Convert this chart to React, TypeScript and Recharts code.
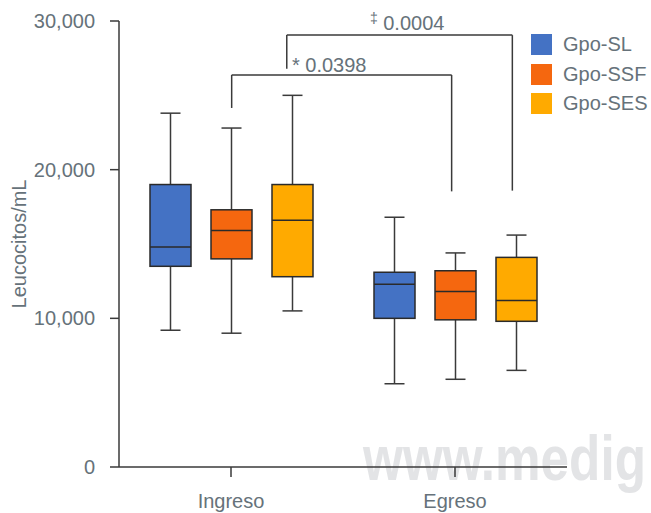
import React from 'react';
import {
  ComposedChart,
  Bar,
  XAxis,
  YAxis,
  Legend,
  ReferenceLine,
  ReferenceDot,
} from 'recharts';

// ---- data ----
const categories = ['Ingreso', 'Egreso'];

const seriesKeys = ['sl', 'ssf', 'ses'];
const seriesNames = ['Gpo-SL', 'Gpo-SSF', 'Gpo-SES'];
const seriesColors = ['#4472C4', '#F5670F', '#FFAA00'];

// per series: [Ingreso, Egreso]
const slMin = [9200, 5600];
const slQ1 = [13500, 10000];
const slMed = [14800, 12300];
const slQ3 = [19000, 13100];
const slMax = [23800, 16800];

const ssfMin = [9000, 5900];
const ssfQ1 = [14000, 9900];
const ssfMed = [15900, 11800];
const ssfQ3 = [17300, 13200];
const ssfMax = [22800, 14400];

const sesMin = [10500, 6500];
const sesQ1 = [12800, 9800];
const sesMed = [16600, 11200];
const sesQ3 = [19000, 14100];
const sesMax = [25000, 15600];

const yTicks = [0, 10000, 20000, 30000];

// significance brackets (x as a fraction 0..1 of the category axis, y in leucocitos/mL)
const bracketAX = [0.2515, 0.2515, 0.7425, 0.7425];
const bracketAY = [24150, 26370, 26370, 18540];
const bracketBX = [0.3745, 0.3745, 0.878, 0.878];
const bracketBY = [26790, 29050, 29050, 18590];

const annotationSymbols = ['*', '‡'];
const annotationValues = ['0.0398', '0.0004'];
const annotationX = [0.386, 0.56];
const annotationY = [26560, 29370];

// ---- build table ----
const stats = {
  sl: { min: slMin, q1: slQ1, med: slMed, q3: slQ3, max: slMax },
  ssf: { min: ssfMin, q1: ssfQ1, med: ssfMed, q3: ssfQ3, max: ssfMax },
  ses: { min: sesMin, q1: sesQ1, med: sesMed, q3: sesQ3, max: sesMax },
};

const data = categories.map((cat, i) => {
  const row: any = { cat };
  seriesKeys.forEach((k) => {
    const s = (stats as any)[k];
    row[k] = [s.min[i], s.max[i]];
    row[k + 'Stats'] = { min: s.min[i], q1: s.q1[i], med: s.med[i], q3: s.q3[i], max: s.max[i] };
  });
  return row;
});

const TEXT = '#66727A';
const LINE = '#3A3A3A';
const FONT = '"Liberation Sans", Arial, Helvetica, sans-serif';

const makeBoxShape = (key: string) => (props: any) => {
  const { x, y, width, height, payload, fill } = props;
  const st = payload[key + 'Stats'];
  const top = Math.min(y, y + height);
  const bottom = Math.max(y, y + height);
  const k = (bottom - top) / (st.max - st.min);
  const py = (v: number) => bottom - (v - st.min) * k;
  const cx = x + width / 2;
  const cap = 10;
  return (
    <g>
      <line x1={cx} x2={cx} y1={py(st.max)} y2={py(st.q3)} stroke={LINE} strokeWidth={1.5} />
      <line x1={cx} x2={cx} y1={py(st.q1)} y2={py(st.min)} stroke={LINE} strokeWidth={1.5} />
      <line x1={cx - cap} x2={cx + cap} y1={py(st.max)} y2={py(st.max)} stroke={LINE} strokeWidth={1.5} />
      <line x1={cx - cap} x2={cx + cap} y1={py(st.min)} y2={py(st.min)} stroke={LINE} strokeWidth={1.5} />
      <rect
        x={x}
        y={py(st.q3)}
        width={width}
        height={py(st.q1) - py(st.q3)}
        fill={fill}
        stroke="#2A2A2A"
        strokeWidth={1.5}
      />
      <line x1={x} x2={x + width} y1={py(st.med)} y2={py(st.med)} stroke="#2A2A2A" strokeWidth={1.5} />
    </g>
  );
};

const bracketSegments = (xs: number[], ys: number[]) =>
  xs.slice(0, -1).map((_, i) => [
    { x: xs[i], y: ys[i] },
    { x: xs[i + 1], y: ys[i + 1] },
  ]);

const YLabel = (props: any) => {
  const vb = props.viewBox || {};
  const cy = (vb.y || 0) + (vb.height || 0) / 2;
  const lx = 26;
  return (
    <text
      x={lx}
      y={cy}
      transform={`rotate(-90, ${lx}, ${cy})`}
      textAnchor="middle"
      fill={TEXT}
      fontSize={20}
      fontFamily={FONT}
    >
      Leucocitos/mL
    </text>
  );
};

const LegendContent = (props: any) => {
  const payload = props.payload && props.payload.length ? props.payload : [];
  const items = seriesNames.map((n, i) => {
    const p = payload.find((e: any) => e.value === n);
    return { name: n, color: (p && p.color) || seriesColors[i] };
  });
  return (
    <div style={{ fontFamily: FONT }}>
      {items.map((it) => (
        <div key={it.name} style={{ display: 'flex', alignItems: 'center', height: 21, marginBottom: 8.5 }}>
          <div style={{ width: 21, height: 21, background: it.color, marginRight: 11 }} />
          <span style={{ fontSize: 20, color: TEXT, lineHeight: '21px' }}>{it.name}</span>
        </div>
      ))}
    </div>
  );
};

export default function App() {
  return (
    <div style={{ position: 'relative', width: 651, height: 513, fontFamily: FONT, background: '#fff' }}>
      <style>{'body{margin:0}'}</style>
      <div style={{ position: 'absolute', left: 0, top: 0, zIndex: 0 }}>
        <svg width={651} height={513}>
          <text
            x={363}
            y={480}
            fontSize={63}
            fontWeight="bold"
            fill="#E3E4E6"
            fontFamily={FONT}
            textLength={283}
            lengthAdjust="spacingAndGlyphs"
          >
            www.medig
          </text>
        </svg>
      </div>
      <div style={{ position: 'relative', zIndex: 1 }}>
        <ComposedChart
          width={651}
          height={513}
          data={data}
          margin={{ top: 21, right: 84, bottom: 0, left: 0 }}
          barGap={20}
          style={{ background: 'transparent' }}
        >
          <XAxis
            dataKey="cat"
            height={46}
            tickSize={10}
            tickMargin={17}
            axisLine={{ stroke: LINE, strokeWidth: 1.5 }}
            tickLine={{ stroke: LINE, strokeWidth: 1.5 }}
            tick={{ fill: TEXT, fontSize: 20, fontFamily: FONT }}
            interval={0}
          />
          <XAxis xAxisId="n" type="number" domain={[0, 1]} allowDataOverflow hide />
          <YAxis
            width={119}
            domain={[0, 30000]}
            ticks={yTicks}
            allowDataOverflow
            tickSize={9}
            tickMargin={15}
            axisLine={{ stroke: LINE, strokeWidth: 1.5 }}
            tickLine={{ stroke: LINE, strokeWidth: 1.5 }}
            tick={{ fill: TEXT, fontSize: 20, fontFamily: FONT }}
            tickFormatter={(v: number) => v.toLocaleString('en-US')}
            label={<YLabel />}
          />
          <Legend
            layout="vertical"
            align="center"
            verticalAlign="middle"
            wrapperStyle={{ top: 34, left: 531, width: 120 }}
            content={<LegendContent />}
          />
          {seriesKeys.map((k, i) => (
            <Bar
              key={k}
              dataKey={k}
              name={seriesNames[i]}
              fill={seriesColors[i]}
              barSize={41}
              isAnimationActive={false}
              shape={makeBoxShape(k)}
              activeBar={false}
            />
          ))}
          {bracketSegments(bracketAX, bracketAY).map((seg, i) => (
            <ReferenceLine
              key={'a' + i}
              xAxisId="n"
              segment={seg}
              stroke={LINE}
              strokeWidth={1.5}
              ifOverflow="visible"
            />
          ))}
          {bracketSegments(bracketBX, bracketBY).map((seg, i) => (
            <ReferenceLine
              key={'b' + i}
              xAxisId="n"
              segment={seg}
              stroke={LINE}
              strokeWidth={1.5}
              ifOverflow="visible"
            />
          ))}
          {annotationValues.map((val, i) => (
            <ReferenceDot
              key={'t' + i}
              xAxisId="n"
              x={annotationX[i]}
              y={annotationY[i]}
              r={0}
              ifOverflow="visible"
              shape={(p: any) => (
                <text x={p.cx} y={p.cy} fill={TEXT} fontSize={20} fontFamily={FONT}>
                  {i === 1 ? (
                    <tspan fontSize={14} dy={-7}>
                      {annotationSymbols[i]}
                    </tspan>
                  ) : (
                    <tspan>{annotationSymbols[i]}</tspan>
                  )}
                  <tspan dy={i === 1 ? 7 : 0}>{' ' + val}</tspan>
                </text>
              )}
            />
          ))}
        </ComposedChart>
      </div>
    </div>
  );
}
